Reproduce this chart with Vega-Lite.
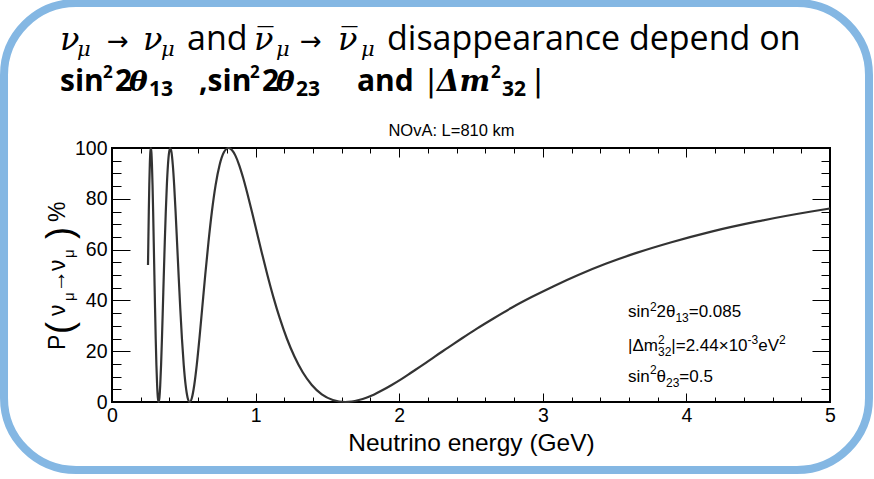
{
  "$schema": "https://vega.github.io/schema/vega-lite/v6.json",
  "width": 718,
  "height": 254,
  "autosize": {"type": "none"},
  "padding": {"left": 112, "top": 148, "right": 44, "bottom": 77},
  "background": "white",
  "data": {"values": [
    {"E": 0.2507, "P": 53.9}, {"E": 0.2530, "P": 62.9}, {"E": 0.2563, "P": 75.0}, {"E": 0.2597, "P": 85.4},
    {"E": 0.2632, "P": 93.3}, {"E": 0.2668, "P": 98.3}, {"E": 0.2706, "P": 100}, {"E": 0.2744, "P": 98.3},
    {"E": 0.2783, "P": 93.3}, {"E": 0.2823, "P": 85.4}, {"E": 0.2865, "P": 75.0}, {"E": 0.2907, "P": 62.9},
    {"E": 0.2952, "P": 50.0}, {"E": 0.2997, "P": 37.1}, {"E": 0.3044, "P": 25.0}, {"E": 0.3092, "P": 14.6},
    {"E": 0.3142, "P": 6.7}, {"E": 0.3193, "P": 1.7}, {"E": 0.3247, "P": 0}, {"E": 0.3302, "P": 1.7},
    {"E": 0.3359, "P": 6.7}, {"E": 0.3418, "P": 14.6}, {"E": 0.3479, "P": 25.0}, {"E": 0.3542, "P": 37.1},
    {"E": 0.3607, "P": 50.0}, {"E": 0.3675, "P": 62.9}, {"E": 0.3746, "P": 75.0}, {"E": 0.3820, "P": 85.4},
    {"E": 0.3896, "P": 93.3}, {"E": 0.3976, "P": 98.3}, {"E": 0.4058, "P": 100}, {"E": 0.4145, "P": 98.3},
    {"E": 0.4235, "P": 93.3}, {"E": 0.4329, "P": 85.4}, {"E": 0.4427, "P": 75.0}, {"E": 0.4530, "P": 62.9},
    {"E": 0.4638, "P": 50.0}, {"E": 0.4751, "P": 37.1}, {"E": 0.4870, "P": 25.0}, {"E": 0.4995, "P": 14.6},
    {"E": 0.5126, "P": 6.7}, {"E": 0.5265, "P": 1.7}, {"E": 0.5411, "P": 0}, {"E": 0.5566, "P": 1.7},
    {"E": 0.5729, "P": 6.7}, {"E": 0.5903, "P": 14.6}, {"E": 0.6088, "P": 25.0}, {"E": 0.6284, "P": 37.1},
    {"E": 0.6493, "P": 50.0}, {"E": 0.6717, "P": 62.9}, {"E": 0.6957, "P": 75.0}, {"E": 0.7215, "P": 85.4},
    {"E": 0.7492, "P": 93.3}, {"E": 0.7792, "P": 98.3}, {"E": 0.8117, "P": 100}, {"E": 0.8349, "P": 99.2},
    {"E": 0.8594, "P": 97.0}, {"E": 0.8855, "P": 93.3}, {"E": 0.9131, "P": 88.3}, {"E": 0.9426, "P": 82.1},
    {"E": 0.9740, "P": 75.0}, {"E": 1.0076, "P": 67.1}, {"E": 1.0436, "P": 58.7}, {"E": 1.0822, "P": 50.0},
    {"E": 1.1238, "P": 41.3}, {"E": 1.1688, "P": 32.9}, {"E": 1.2175, "P": 25.0}, {"E": 1.2704, "P": 17.9},
    {"E": 1.3282, "P": 11.7}, {"E": 1.3914, "P": 6.7}, {"E": 1.4610, "P": 3.0}, {"E": 1.5379, "P": 0.8},
    {"E": 1.6233, "P": 0}, {"E": 1.6697, "P": 0.2}, {"E": 1.7188, "P": 0.8}, {"E": 1.7709, "P": 1.7},
    {"E": 1.8263, "P": 3.0}, {"E": 1.8852, "P": 4.7}, {"E": 1.9480, "P": 6.7}, {"E": 2.0152, "P": 9.0},
    {"E": 2.0871, "P": 11.7}, {"E": 2.1644, "P": 14.6}, {"E": 2.2477, "P": 17.9}, {"E": 2.3376, "P": 21.3},
    {"E": 2.4350, "P": 25.0}, {"E": 2.5409, "P": 28.9}, {"E": 2.6564, "P": 32.9}, {"E": 2.7829, "P": 37.1},
    {"E": 2.9220, "P": 41.3}, {"E": 3.0758, "P": 45.6}, {"E": 3.2467, "P": 50.0}, {"E": 3.4376, "P": 54.4},
    {"E": 3.6525, "P": 58.7}, {"E": 3.8960, "P": 62.9}, {"E": 4.1743, "P": 67.1}, {"E": 4.4954, "P": 71.1},
    {"E": 4.8700, "P": 75.0}, {"E": 5.0000, "P": 76.2}
  ]},
  "resolve": {"axis": {"x": "independent", "y": "independent"}},
  "layer": [
    {
      "mark": {"type": "line", "color": "#333333", "strokeWidth": 2.2, "interpolate": "monotone"},
      "encoding": {
        "x": {"field": "E", "type": "quantitative", "scale": {"domain": [0, 5], "nice": false},
          "axis": {"orient": "bottom", "values": [0,0.2,0.4,0.6,0.8,1,1.2,1.4,1.6,1.8,2,2.2,2.4,2.6,2.8,3,3.2,3.4,3.6,3.8,4,4.2,4.4,4.6,4.8,5],
            "domain": false, "grid": false, "tickColor": "#000", "tickWidth": 1,
            "tickSize": {"condition": {"test": "abs(datum.value - round(datum.value)) < 0.01", "value": -9}, "value": -5},
            "labelExpr": "abs(datum.value - round(datum.value)) < 0.01 ? format(datum.value, 'd') : ''",
            "labelFont": "Liberation Sans", "labelFontSize": 19.5, "labelColor": "#000", "labelPadding": 13,
            "labelFlush": false, "labelOverlap": false, "labelBound": false,
            "title": "Neutrino energy (GeV)", "titleFont": "Liberation Sans", "titleFontSize": 24.5,
            "titleFontWeight": "normal", "titleColor": "#000", "titlePadding": 3}},
        "y": {"field": "P", "type": "quantitative", "scale": {"domain": [0, 100], "nice": false},
          "axis": {"orient": "left", "values": [0,5,10,15,20,25,30,35,40,45,50,55,60,65,70,75,80,85,90,95,100],
            "domain": false, "grid": false, "tickColor": "#000", "tickWidth": 1,
            "tickSize": {"condition": {"test": "datum.value % 20 === 0", "value": -18}, "value": -9},
            "labelExpr": "datum.value % 20 === 0 ? datum.label : ''",
            "labelFont": "Liberation Sans", "labelFontSize": 19.5, "labelColor": "#000", "labelPadding": 23,
            "labelFlush": false, "labelOverlap": false, "labelBound": false, "title": null}}
      }
    },
    {
      "mark": {"type": "line", "strokeOpacity": 0},
      "encoding": {
        "x": {"field": "E", "type": "quantitative", "scale": {"domain": [0, 5], "nice": false},
          "axis": {"orient": "top", "values": [0,0.2,0.4,0.6,0.8,1,1.2,1.4,1.6,1.8,2,2.2,2.4,2.6,2.8,3,3.2,3.4,3.6,3.8,4,4.2,4.4,4.6,4.8,5],
            "domain": false, "grid": false, "labels": false, "tickColor": "#000", "tickWidth": 1,
            "tickSize": {"condition": {"test": "abs(datum.value - round(datum.value)) < 0.01", "value": -9}, "value": -5},
            "title": null}},
        "y": {"field": "P", "type": "quantitative", "scale": {"domain": [0, 100], "nice": false},
          "axis": {"orient": "right", "values": [0,5,10,15,20,25,30,35,40,45,50,55,60,65,70,75,80,85,90,95,100],
            "domain": false, "grid": false, "labels": false, "tickColor": "#000", "tickWidth": 1,
            "tickSize": {"condition": {"test": "datum.value % 20 === 0", "value": -18}, "value": -9},
            "title": null}}
      }
    },
    {
      "data": {"values": [{}]},
      "mark": {"type": "rect", "fill": "transparent", "stroke": "#84B7E3", "strokeWidth": 8, "cornerRadius": 72, "clip": false},
      "encoding": {
        "x": {"datum": -0.752, "type": "quantitative", "scale": {"domain": [0, 5]}, "axis": null},
        "x2": {"datum": 5.2716},
        "y": {"datum": 157.09, "type": "quantitative", "scale": {"domain": [0, 100]}, "axis": null},
        "y2": {"datum": -26.77}
      }
    },
    {"data": {"values": [{}]}, "mark": {"type": "text", "style": "ptitle", "text": "NOvA: L=810 km"},
      "encoding": {"x": {"datum": 2.364, "type": "quantitative", "scale": {"domain": [0, 5]}, "axis": null},
        "y": {"datum": 104.92, "type": "quantitative", "scale": {"domain": [0, 100]}, "axis": null}}},

    {"data": {"values": [{}]}, "mark": {"type": "text", "style": "leg", "text": "sin"},
      "encoding": {"x": {"datum": 3.5933, "type": "quantitative", "scale": {"domain": [0, 5]}, "axis": null},
        "y": {"datum": 33.27, "type": "quantitative", "scale": {"domain": [0, 100]}, "axis": null}}},
    {"data": {"values": [{}]}, "mark": {"type": "text", "style": "legs", "text": "2"},
      "encoding": {"x": {"datum": 3.7465, "type": "quantitative", "scale": {"domain": [0, 5]}, "axis": null},
        "y": {"datum": 36.02, "type": "quantitative", "scale": {"domain": [0, 100]}, "axis": null}}},
    {"data": {"values": [{}]}, "mark": {"type": "text", "style": "leg", "text": "2θ"},
      "encoding": {"x": {"datum": 3.7918, "type": "quantitative", "scale": {"domain": [0, 5]}, "axis": null},
        "y": {"datum": 33.27, "type": "quantitative", "scale": {"domain": [0, 100]}, "axis": null}}},
    {"data": {"values": [{}]}, "mark": {"type": "text", "style": "legs", "text": "13"},
      "encoding": {"x": {"datum": 3.9234, "type": "quantitative", "scale": {"domain": [0, 5]}, "axis": null},
        "y": {"datum": 31.3, "type": "quantitative", "scale": {"domain": [0, 100]}, "axis": null}}},
    {"data": {"values": [{}]}, "mark": {"type": "text", "style": "leg", "text": "=0.085"},
      "encoding": {"x": {"datum": 4.016, "type": "quantitative", "scale": {"domain": [0, 5]}, "axis": null},
        "y": {"datum": 33.27, "type": "quantitative", "scale": {"domain": [0, 100]}, "axis": null}}},

    {"data": {"values": [{}]}, "mark": {"type": "text", "style": "leg", "text": "|Δm"},
      "encoding": {"x": {"datum": 3.5933, "type": "quantitative", "scale": {"domain": [0, 5]}, "axis": null},
        "y": {"datum": 20.08, "type": "quantitative", "scale": {"domain": [0, 100]}, "axis": null}}},
    {"data": {"values": [{}]}, "mark": {"type": "text", "style": "legs", "text": "2"},
      "encoding": {"x": {"datum": 3.8022, "type": "quantitative", "scale": {"domain": [0, 5]}, "axis": null},
        "y": {"datum": 22.83, "type": "quantitative", "scale": {"domain": [0, 100]}, "axis": null}}},
    {"data": {"values": [{}]}, "mark": {"type": "text", "style": "legs", "text": "32"},
      "encoding": {"x": {"datum": 3.8022, "type": "quantitative", "scale": {"domain": [0, 5]}, "axis": null},
        "y": {"datum": 18.11, "type": "quantitative", "scale": {"domain": [0, 100]}, "axis": null}}},
    {"data": {"values": [{}]}, "mark": {"type": "text", "style": "leg", "text": "|=2.44×10"},
      "encoding": {"x": {"datum": 3.8948, "type": "quantitative", "scale": {"domain": [0, 5]}, "axis": null},
        "y": {"datum": 20.08, "type": "quantitative", "scale": {"domain": [0, 100]}, "axis": null}}},
    {"data": {"values": [{}]}, "mark": {"type": "text", "style": "legs", "text": "-3"},
      "encoding": {"x": {"datum": 4.4262, "type": "quantitative", "scale": {"domain": [0, 5]}, "axis": null},
        "y": {"datum": 22.83, "type": "quantitative", "scale": {"domain": [0, 100]}, "axis": null}}},
    {"data": {"values": [{}]}, "mark": {"type": "text", "style": "leg", "text": "eV"},
      "encoding": {"x": {"datum": 4.5007, "type": "quantitative", "scale": {"domain": [0, 5]}, "axis": null},
        "y": {"datum": 20.08, "type": "quantitative", "scale": {"domain": [0, 100]}, "axis": null}}},
    {"data": {"values": [{}]}, "mark": {"type": "text", "style": "legs", "text": "2"},
      "encoding": {"x": {"datum": 4.6448, "type": "quantitative", "scale": {"domain": [0, 5]}, "axis": null},
        "y": {"datum": 22.83, "type": "quantitative", "scale": {"domain": [0, 100]}, "axis": null}}},

    {"data": {"values": [{}]}, "mark": {"type": "text", "style": "leg", "text": "sin"},
      "encoding": {"x": {"datum": 3.5933, "type": "quantitative", "scale": {"domain": [0, 5]}, "axis": null},
        "y": {"datum": 8.07, "type": "quantitative", "scale": {"domain": [0, 100]}, "axis": null}}},
    {"data": {"values": [{}]}, "mark": {"type": "text", "style": "legs", "text": "2"},
      "encoding": {"x": {"datum": 3.7465, "type": "quantitative", "scale": {"domain": [0, 5]}, "axis": null},
        "y": {"datum": 10.83, "type": "quantitative", "scale": {"domain": [0, 100]}, "axis": null}}},
    {"data": {"values": [{}]}, "mark": {"type": "text", "style": "leg", "text": "θ"},
      "encoding": {"x": {"datum": 3.7918, "type": "quantitative", "scale": {"domain": [0, 5]}, "axis": null},
        "y": {"datum": 8.07, "type": "quantitative", "scale": {"domain": [0, 100]}, "axis": null}}},
    {"data": {"values": [{}]}, "mark": {"type": "text", "style": "legs", "text": "23"},
      "encoding": {"x": {"datum": 3.8579, "type": "quantitative", "scale": {"domain": [0, 5]}, "axis": null},
        "y": {"datum": 6.1, "type": "quantitative", "scale": {"domain": [0, 100]}, "axis": null}}},
    {"data": {"values": [{}]}, "mark": {"type": "text", "style": "leg", "text": "=0.5"},
      "encoding": {"x": {"datum": 3.9506, "type": "quantitative", "scale": {"domain": [0, 5]}, "axis": null},
        "y": {"datum": 8.07, "type": "quantitative", "scale": {"domain": [0, 100]}, "axis": null}}},

    {"data": {"values": [{}]}, "mark": {"type": "text", "style": "yt", "text": "P"},
      "encoding": {"x": {"datum": -0.3273, "type": "quantitative", "scale": {"domain": [0, 5]}, "axis": null},
        "y": {"datum": 20.47, "type": "quantitative", "scale": {"domain": [0, 100]}, "axis": null}}},
    {"data": {"values": [{}]}, "mark": {"type": "text", "style": "ytp", "text": "("},
      "encoding": {"x": {"datum": -0.2786, "type": "quantitative", "scale": {"domain": [0, 5]}, "axis": null},
        "y": {"datum": 26.77, "type": "quantitative", "scale": {"domain": [0, 100]}, "axis": null}}},
    {"data": {"values": [{}]}, "mark": {"type": "text", "style": "yt", "text": "ν"},
      "encoding": {"x": {"datum": -0.3273, "type": "quantitative", "scale": {"domain": [0, 5]}, "axis": null},
        "y": {"datum": 33.86, "type": "quantitative", "scale": {"domain": [0, 100]}, "axis": null}}},
    {"data": {"values": [{}]}, "mark": {"type": "text", "style": "ytsub", "text": "μ"},
      "encoding": {"x": {"datum": -0.2646, "type": "quantitative", "scale": {"domain": [0, 5]}, "axis": null},
        "y": {"datum": 39.76, "type": "quantitative", "scale": {"domain": [0, 100]}, "axis": null}}},
    {"data": {"values": [{}]}, "mark": {"type": "text", "style": "yt", "text": "→"},
      "encoding": {"x": {"datum": -0.3273, "type": "quantitative", "scale": {"domain": [0, 5]}, "axis": null},
        "y": {"datum": 42.91, "type": "quantitative", "scale": {"domain": [0, 100]}, "axis": null}}},
    {"data": {"values": [{}]}, "mark": {"type": "text", "style": "yt", "text": "ν"},
      "encoding": {"x": {"datum": -0.3273, "type": "quantitative", "scale": {"domain": [0, 5]}, "axis": null},
        "y": {"datum": 51.57, "type": "quantitative", "scale": {"domain": [0, 100]}, "axis": null}}},
    {"data": {"values": [{}]}, "mark": {"type": "text", "style": "ytsub", "text": "μ"},
      "encoding": {"x": {"datum": -0.2646, "type": "quantitative", "scale": {"domain": [0, 5]}, "axis": null},
        "y": {"datum": 56.69, "type": "quantitative", "scale": {"domain": [0, 100]}, "axis": null}}},
    {"data": {"values": [{}]}, "mark": {"type": "text", "style": "ytp", "text": ")"},
      "encoding": {"x": {"datum": -0.2786, "type": "quantitative", "scale": {"domain": [0, 5]}, "axis": null},
        "y": {"datum": 64.17, "type": "quantitative", "scale": {"domain": [0, 100]}, "axis": null}}},
    {"data": {"values": [{}]}, "mark": {"type": "text", "style": "yt", "text": "%"},
      "encoding": {"x": {"datum": -0.3273, "type": "quantitative", "scale": {"domain": [0, 5]}, "axis": null},
        "y": {"datum": 70.87, "type": "quantitative", "scale": {"domain": [0, 100]}, "axis": null}}},

    {"data": {"values": [{}]}, "mark": {"type": "text", "style": "nu", "text": "ν"},
      "encoding": {"x": {"datum": -0.3621, "type": "quantitative", "scale": {"domain": [0, 5]}, "axis": null},
        "y": {"datum": 138.58, "type": "quantitative", "scale": {"domain": [0, 100]}, "axis": null}}},
    {"data": {"values": [{}]}, "mark": {"type": "text", "style": "mu", "text": "μ"},
      "encoding": {"x": {"datum": -0.2437, "type": "quantitative", "scale": {"domain": [0, 5]}, "axis": null},
        "y": {"datum": 136.22, "type": "quantitative", "scale": {"domain": [0, 100]}, "axis": null}}},
    {"data": {"values": [{}]}, "mark": {"type": "text", "style": "arr", "text": "→"},
      "encoding": {"x": {"datum": -0.0348, "type": "quantitative", "scale": {"domain": [0, 5]}, "axis": null},
        "y": {"datum": 138.58, "type": "quantitative", "scale": {"domain": [0, 100]}, "axis": null}}},
    {"data": {"values": [{}]}, "mark": {"type": "text", "style": "nu", "text": "ν"},
      "encoding": {"x": {"datum": 0.2159, "type": "quantitative", "scale": {"domain": [0, 5]}, "axis": null},
        "y": {"datum": 138.58, "type": "quantitative", "scale": {"domain": [0, 100]}, "axis": null}}},
    {"data": {"values": [{}]}, "mark": {"type": "text", "style": "mu", "text": "μ"},
      "encoding": {"x": {"datum": 0.3412, "type": "quantitative", "scale": {"domain": [0, 5]}, "axis": null},
        "y": {"datum": 136.22, "type": "quantitative", "scale": {"domain": [0, 100]}, "axis": null}}},
    {"data": {"values": [{}]}, "mark": {"type": "text", "style": "hd", "text": "and"},
      "encoding": {"x": {"datum": 0.5223, "type": "quantitative", "scale": {"domain": [0, 5]}, "axis": null},
        "y": {"datum": 138.58, "type": "quantitative", "scale": {"domain": [0, 100]}, "axis": null}}},
    {"data": {"values": [{}]}, "mark": {"type": "text", "style": "nu", "text": "ν̅"},
      "encoding": {"x": {"datum": 0.9889, "type": "quantitative", "scale": {"domain": [0, 5]}, "axis": null},
        "y": {"datum": 138.58, "type": "quantitative", "scale": {"domain": [0, 100]}, "axis": null}}},
    {"data": {"values": [{}]}, "mark": {"type": "text", "style": "mu", "text": "μ"},
      "encoding": {"x": {"datum": 1.1421, "type": "quantitative", "scale": {"domain": [0, 5]}, "axis": null},
        "y": {"datum": 136.22, "type": "quantitative", "scale": {"domain": [0, 100]}, "axis": null}}},
    {"data": {"values": [{}]}, "mark": {"type": "text", "style": "arr", "text": "→"},
      "encoding": {"x": {"datum": 1.3092, "type": "quantitative", "scale": {"domain": [0, 5]}, "axis": null},
        "y": {"datum": 138.58, "type": "quantitative", "scale": {"domain": [0, 100]}, "axis": null}}},
    {"data": {"values": [{}]}, "mark": {"type": "text", "style": "nu", "text": "ν̅"},
      "encoding": {"x": {"datum": 1.5738, "type": "quantitative", "scale": {"domain": [0, 5]}, "axis": null},
        "y": {"datum": 138.58, "type": "quantitative", "scale": {"domain": [0, 100]}, "axis": null}}},
    {"data": {"values": [{}]}, "mark": {"type": "text", "style": "mu", "text": "μ"},
      "encoding": {"x": {"datum": 1.734, "type": "quantitative", "scale": {"domain": [0, 5]}, "axis": null},
        "y": {"datum": 136.22, "type": "quantitative", "scale": {"domain": [0, 100]}, "axis": null}}},
    {"data": {"values": [{}]}, "mark": {"type": "text", "style": "hd", "text": "disappearance depend on"},
      "encoding": {"x": {"datum": 1.915, "type": "quantitative", "scale": {"domain": [0, 5]}, "axis": null},
        "y": {"datum": 138.58, "type": "quantitative", "scale": {"domain": [0, 100]}, "axis": null}}},

    {"data": {"values": [{}]}, "mark": {"type": "text", "style": "hdb", "text": "sin"},
      "encoding": {"x": {"datum": -0.3621, "type": "quantitative", "scale": {"domain": [0, 5]}, "axis": null},
        "y": {"datum": 122.44, "type": "quantitative", "scale": {"domain": [0, 100]}, "axis": null}}},
    {"data": {"values": [{}]}, "mark": {"type": "text", "style": "supb", "text": "2"},
      "encoding": {"x": {"datum": -0.0627, "type": "quantitative", "scale": {"domain": [0, 5]}, "axis": null},
        "y": {"datum": 127.56, "type": "quantitative", "scale": {"domain": [0, 100]}, "axis": null}}},
    {"data": {"values": [{}]}, "mark": {"type": "text", "style": "hdb", "text": "2"},
      "encoding": {"x": {"datum": 0.0209, "type": "quantitative", "scale": {"domain": [0, 5]}, "axis": null},
        "y": {"datum": 122.44, "type": "quantitative", "scale": {"domain": [0, 100]}, "axis": null}}},
    {"data": {"values": [{}]}, "mark": {"type": "text", "style": "mb", "text": "θ"},
      "encoding": {"x": {"datum": 0.1184, "type": "quantitative", "scale": {"domain": [0, 5]}, "axis": null},
        "y": {"datum": 122.44, "type": "quantitative", "scale": {"domain": [0, 100]}, "axis": null}}},
    {"data": {"values": [{}]}, "mark": {"type": "text", "style": "subb", "text": "13"},
      "encoding": {"x": {"datum": 0.2577, "type": "quantitative", "scale": {"domain": [0, 5]}, "axis": null},
        "y": {"datum": 120.47, "type": "quantitative", "scale": {"domain": [0, 100]}, "axis": null}}},
    {"data": {"values": [{}]}, "mark": {"type": "text", "style": "hdb", "text": ",sin"},
      "encoding": {"x": {"datum": 0.6059, "type": "quantitative", "scale": {"domain": [0, 5]}, "axis": null},
        "y": {"datum": 122.44, "type": "quantitative", "scale": {"domain": [0, 100]}, "axis": null}}},
    {"data": {"values": [{}]}, "mark": {"type": "text", "style": "supb", "text": "2"},
      "encoding": {"x": {"datum": 0.961, "type": "quantitative", "scale": {"domain": [0, 5]}, "axis": null},
        "y": {"datum": 127.56, "type": "quantitative", "scale": {"domain": [0, 100]}, "axis": null}}},
    {"data": {"values": [{}]}, "mark": {"type": "text", "style": "hdb", "text": "2"},
      "encoding": {"x": {"datum": 1.0446, "type": "quantitative", "scale": {"domain": [0, 5]}, "axis": null},
        "y": {"datum": 122.44, "type": "quantitative", "scale": {"domain": [0, 100]}, "axis": null}}},
    {"data": {"values": [{}]}, "mark": {"type": "text", "style": "mb", "text": "θ"},
      "encoding": {"x": {"datum": 1.1421, "type": "quantitative", "scale": {"domain": [0, 5]}, "axis": null},
        "y": {"datum": 122.44, "type": "quantitative", "scale": {"domain": [0, 100]}, "axis": null}}},
    {"data": {"values": [{}]}, "mark": {"type": "text", "style": "subb", "text": "23"},
      "encoding": {"x": {"datum": 1.2813, "type": "quantitative", "scale": {"domain": [0, 5]}, "axis": null},
        "y": {"datum": 120.47, "type": "quantitative", "scale": {"domain": [0, 100]}, "axis": null}}},
    {"data": {"values": [{}]}, "mark": {"type": "text", "style": "hdb", "text": "and"},
      "encoding": {"x": {"datum": 1.7061, "type": "quantitative", "scale": {"domain": [0, 5]}, "axis": null},
        "y": {"datum": 122.44, "type": "quantitative", "scale": {"domain": [0, 100]}, "axis": null}}},
    {"data": {"values": [{}]}, "mark": {"type": "text", "style": "bar", "text": "|"},
      "encoding": {"x": {"datum": 2.1866, "type": "quantitative", "scale": {"domain": [0, 5]}, "axis": null},
        "y": {"datum": 122.44, "type": "quantitative", "scale": {"domain": [0, 100]}, "axis": null}}},
    {"data": {"values": [{}]}, "mark": {"type": "text", "style": "mb2", "text": "Δm"},
      "encoding": {"x": {"datum": 2.2632, "type": "quantitative", "scale": {"domain": [0, 5]}, "axis": null},
        "y": {"datum": 122.44, "type": "quantitative", "scale": {"domain": [0, 100]}, "axis": null}}},
    {"data": {"values": [{}]}, "mark": {"type": "text", "style": "supb", "text": "2"},
      "encoding": {"x": {"datum": 2.6393, "type": "quantitative", "scale": {"domain": [0, 5]}, "axis": null},
        "y": {"datum": 127.56, "type": "quantitative", "scale": {"domain": [0, 100]}, "axis": null}}},
    {"data": {"values": [{}]}, "mark": {"type": "text", "style": "subb", "text": "32"},
      "encoding": {"x": {"datum": 2.7159, "type": "quantitative", "scale": {"domain": [0, 5]}, "axis": null},
        "y": {"datum": 120.47, "type": "quantitative", "scale": {"domain": [0, 100]}, "axis": null}}},
    {"data": {"values": [{}]}, "mark": {"type": "text", "style": "bar", "text": "|"},
      "encoding": {"x": {"datum": 2.9318, "type": "quantitative", "scale": {"domain": [0, 5]}, "axis": null},
        "y": {"datum": 122.44, "type": "quantitative", "scale": {"domain": [0, 100]}, "axis": null}}}
  ],
  "config": {
    "view": {"stroke": "#000000", "strokeWidth": 2},
    "text": {"align": "left", "baseline": "alphabetic"},
    "style": {
      "ptitle": {"font": "Liberation Sans", "fontSize": 16.5, "fill": "#000", "align": "center", "baseline": "alphabetic"},
      "leg": {"font": "Liberation Sans", "fontSize": 17, "fill": "#000", "align": "left", "baseline": "alphabetic"},
      "legs": {"font": "Liberation Sans", "fontSize": 12, "fill": "#000", "align": "left", "baseline": "alphabetic"},
      "yt": {"font": "Liberation Sans", "fontSize": 23, "fill": "#000", "align": "left", "baseline": "alphabetic", "angle": 270},
      "ytsub": {"font": "Liberation Sans", "fontSize": 15, "fill": "#000", "align": "left", "baseline": "alphabetic", "angle": 270},
      "ytp": {"font": "Liberation Sans", "fontSize": 36, "fill": "#000", "align": "left", "baseline": "alphabetic", "angle": 270},
      "hd": {"font": "Open Sans", "fontSize": 34, "fill": "#1e1e1e", "align": "left", "baseline": "alphabetic"},
      "hdb": {"font": "Open Sans", "fontSize": 30, "fontWeight": "bold", "fill": "#1e1e1e", "align": "left", "baseline": "alphabetic"},
      "nu": {"font": "DejaVu Serif", "fontStyle": "italic", "fontSize": 32, "fill": "#1e1e1e", "align": "left", "baseline": "alphabetic"},
      "mu": {"font": "DejaVu Serif", "fontStyle": "italic", "fontSize": 21, "fill": "#1e1e1e", "align": "left", "baseline": "alphabetic"},
      "arr": {"font": "DejaVu Sans", "fontSize": 26, "fill": "#1e1e1e", "align": "left", "baseline": "alphabetic"},
      "mb": {"font": "DejaVu Serif", "fontStyle": "italic", "fontWeight": "bold", "fontSize": 28, "fill": "#1e1e1e", "align": "left", "baseline": "alphabetic"},
      "mb2": {"font": "DejaVu Serif", "fontStyle": "italic", "fontWeight": "bold", "fontSize": 29, "fill": "#1e1e1e", "align": "left", "baseline": "alphabetic"},
      "supb": {"font": "Open Sans", "fontWeight": "bold", "fontSize": 17, "fill": "#1e1e1e", "align": "left", "baseline": "alphabetic"},
      "subb": {"font": "Open Sans", "fontWeight": "bold", "fontSize": 21, "fill": "#1e1e1e", "align": "left", "baseline": "alphabetic"},
      "bar": {"font": "DejaVu Sans", "fontSize": 30, "fill": "#1e1e1e", "align": "left", "baseline": "alphabetic"}
    }
  }
}
